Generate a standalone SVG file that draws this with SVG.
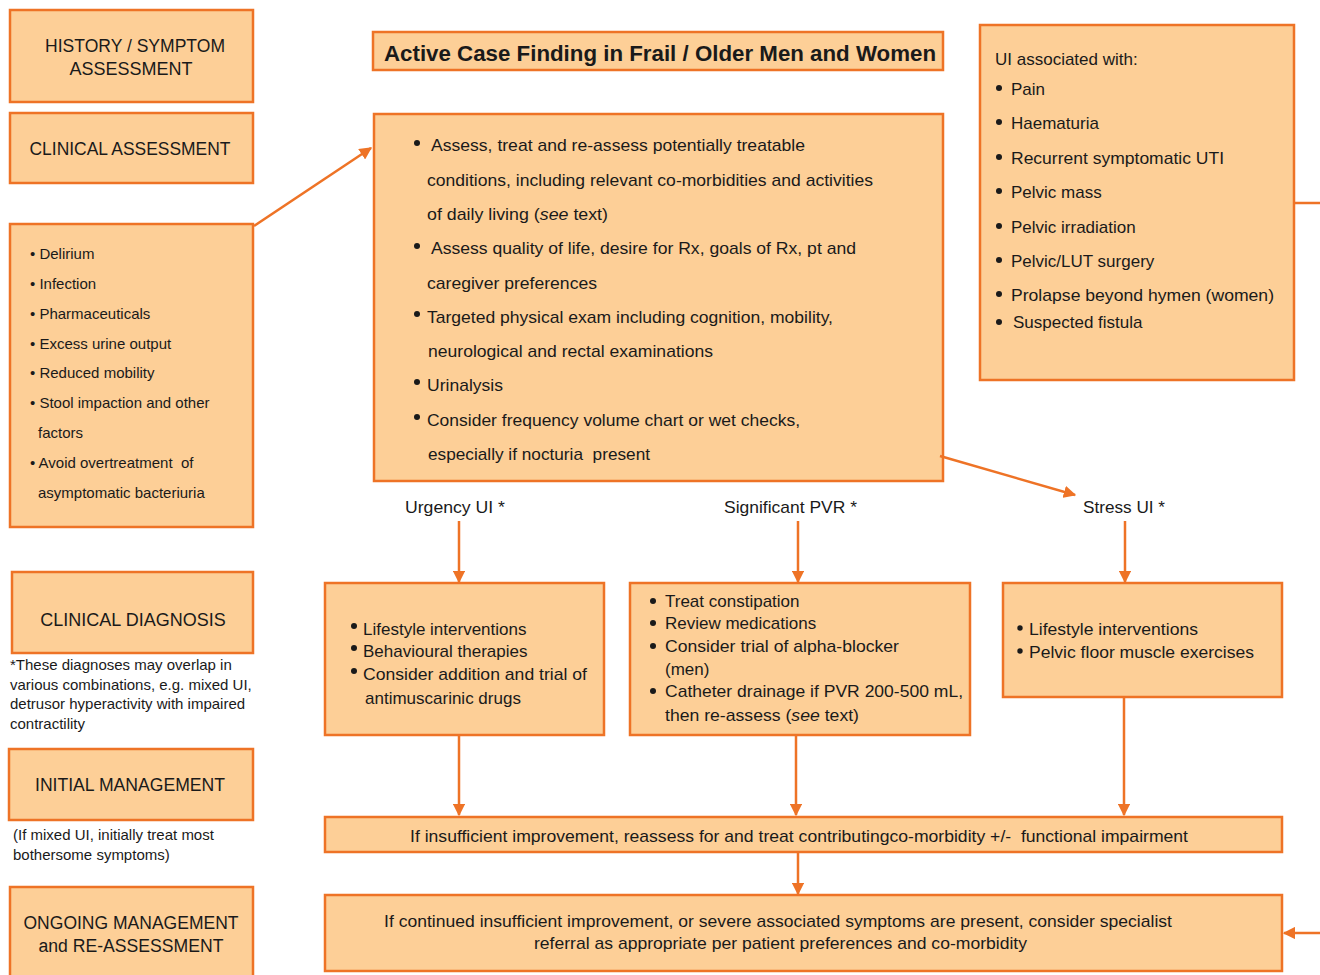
<svg xmlns="http://www.w3.org/2000/svg" width="1320" height="975" viewBox="0 0 1320 975">
<style>
.box{fill:#FDCF97;stroke:#EE7326;stroke-width:2.5}
.t{font-family:"Liberation Sans",Arial,sans-serif;fill:#1a1a1a}
.h{font-size:18px;text-anchor:middle}
.m{font-size:17px}
.s{font-size:15px}
.c{text-anchor:middle}
.d{fill:#1a1a1a}
.pre{white-space:pre}
.ln{stroke:#EE7326;stroke-width:2.5;fill:none}
</style>
<defs>
<marker id="ah" viewBox="0 0 10 10" refX="9" refY="5" markerWidth="5" markerHeight="5" orient="auto" markerUnits="strokeWidth">
<path d="M0,0 L10,5 L0,10 z" fill="#EE7326"/>
</marker>
</defs>

<g id="history">
<rect class="box" x="10" y="10" width="243" height="92"/>
<text class="t h" x="135" y="52" textLength="180" lengthAdjust="spacingAndGlyphs">HISTORY / SYMPTOM</text>
<text class="t h" x="131" y="75">ASSESSMENT</text>
</g>
<g id="clinical-assessment">
<rect class="box" x="10" y="113" width="243" height="70"/>
<text class="t h" x="130" y="155" textLength="201" lengthAdjust="spacingAndGlyphs">CLINICAL ASSESSMENT</text>
</g>
<g id="factors">
<rect class="box" x="10" y="224" width="243" height="303"/>
<text class="t s" x="30" y="259">• Delirium</text>
<text class="t s" x="30" y="289">• Infection</text>
<text class="t s" x="30" y="319">• Pharmaceuticals</text>
<text class="t s" x="30" y="349">• Excess urine output</text>
<text class="t s" x="30" y="378">• Reduced mobility</text>
<text class="t s" x="30" y="408">• Stool impaction and other</text>
<text class="t s" x="38" y="438">factors</text>
<text class="t s pre" x="30" y="468">• Avoid overtreatment  of</text>
<text class="t s" x="38" y="498">asymptomatic bacteriuria</text>
</g>
<g id="clinical-diagnosis">
<rect class="box" x="12" y="572" width="241" height="81"/>
<text class="t h" x="133" y="626">CLINICAL DIAGNOSIS</text>
</g>
<g id="footnote">
<text class="t s" x="10" y="670">*These diagnoses may overlap in</text>
<text class="t s" x="10" y="690">various combinations, e.g. mixed UI,</text>
<text class="t s" x="10" y="709">detrusor hyperactivity with impaired</text>
<text class="t s" x="10" y="729">contractility</text>
</g>
<g id="initial-management">
<rect class="box" x="9" y="749" width="244" height="71"/>
<text class="t h" x="130" y="791" textLength="190" lengthAdjust="spacingAndGlyphs">INITIAL MANAGEMENT</text>
</g>
<g id="mixed-note">
<text class="t s" x="13" y="840">(If mixed UI, initially treat most</text>
<text class="t s" x="13" y="860">bothersome symptoms)</text>
</g>
<g id="ongoing">
<rect class="box" x="10" y="887" width="243" height="95"/>
<text class="t h" x="131" y="929" textLength="215" lengthAdjust="spacingAndGlyphs">ONGOING MANAGEMENT</text>
<text class="t h" x="131" y="952" textLength="185" lengthAdjust="spacingAndGlyphs">and RE-ASSESSMENT</text>
</g>

<g id="title">
<rect class="box" x="373" y="32" width="570" height="38"/>
<text class="t c" x="660" y="61" font-size="22" font-weight="bold" textLength="552" lengthAdjust="spacingAndGlyphs">Active Case Finding in Frail / Older Men and Women</text>
</g>

<g id="assessment">
<rect class="box" x="374" y="114" width="569" height="367"/>
<circle class="d" cx="417" cy="143" r="3"/>
<text class="t m" x="431" y="151" textLength="374" lengthAdjust="spacingAndGlyphs">Assess, treat and re-assess potentially treatable</text>
<text class="t m" x="427" y="186" textLength="446" lengthAdjust="spacingAndGlyphs">conditions, including relevant co-morbidities and activities</text>
<text class="t m" x="427" y="220" textLength="181" lengthAdjust="spacingAndGlyphs">of daily living (<tspan font-style="italic">see</tspan> text)</text>
<circle class="d" cx="417" cy="246" r="3"/>
<text class="t m" x="431" y="254" textLength="425" lengthAdjust="spacingAndGlyphs">Assess quality of life, desire for Rx, goals of Rx, pt and</text>
<text class="t m" x="427" y="289" textLength="170" lengthAdjust="spacingAndGlyphs">caregiver preferences</text>
<circle class="d" cx="417" cy="314" r="3"/>
<text class="t m" x="427" y="323" textLength="406" lengthAdjust="spacingAndGlyphs">Targeted physical exam including cognition, mobility,</text>
<text class="t m" x="428" y="357" textLength="285" lengthAdjust="spacingAndGlyphs">neurological and rectal examinations</text>
<circle class="d" cx="417" cy="382" r="3"/>
<text class="t m" x="427" y="391" textLength="76" lengthAdjust="spacingAndGlyphs">Urinalysis</text>
<circle class="d" cx="417" cy="417" r="3"/>
<text class="t m" x="427" y="426" textLength="373" lengthAdjust="spacingAndGlyphs">Consider frequency volume chart or wet checks,</text>
<text class="t m pre" x="428" y="460" textLength="222" lengthAdjust="spacingAndGlyphs">especially if nocturia  present</text>
</g>

<g id="ui-associated">
<rect class="box" x="980" y="25" width="314" height="355"/>
<text class="t m" x="995" y="65">UI associated with:</text>
<circle class="d" cx="999" cy="88" r="3"/><text class="t m" x="1011" y="95">Pain</text>
<circle class="d" cx="999" cy="122" r="3"/><text class="t m" x="1011" y="129">Haematuria</text>
<circle class="d" cx="999" cy="157" r="3"/><text class="t m" x="1011" y="164" textLength="213" lengthAdjust="spacingAndGlyphs">Recurrent symptomatic UTI</text>
<circle class="d" cx="999" cy="191" r="3"/><text class="t m" x="1011" y="198">Pelvic mass</text>
<circle class="d" cx="999" cy="226" r="3"/><text class="t m" x="1011" y="233">Pelvic irradiation</text>
<circle class="d" cx="999" cy="260" r="3"/><text class="t m" x="1011" y="267">Pelvic/LUT surgery</text>
<circle class="d" cx="999" cy="294" r="3"/><text class="t m" x="1011" y="301" textLength="263" lengthAdjust="spacingAndGlyphs">Prolapse beyond hymen (women)</text>
<circle class="d" cx="999" cy="322" r="3"/><text class="t m" x="1013" y="328">Suspected fistula</text>
</g>

<g id="label-urgency"><text class="t m" x="405" y="513" textLength="100" lengthAdjust="spacingAndGlyphs">Urgency UI *</text></g>
<g id="label-pvr"><text class="t m" x="724" y="513" textLength="133" lengthAdjust="spacingAndGlyphs">Significant PVR *</text></g>
<g id="label-stress"><text class="t m" x="1083" y="513" textLength="82" lengthAdjust="spacingAndGlyphs">Stress UI *</text></g>

<g id="urgency-mgmt">
<rect class="box" x="325" y="583" width="279" height="152"/>
<circle class="d" cx="354" cy="626" r="3"/><text class="t m" x="363" y="635">Lifestyle interventions</text>
<circle class="d" cx="354" cy="648" r="3"/><text class="t m" x="363" y="657">Behavioural therapies</text>
<circle class="d" cx="354" cy="671" r="3"/><text class="t m" x="363" y="680" textLength="224" lengthAdjust="spacingAndGlyphs">Consider addition and trial of</text>
<text class="t m" x="365" y="704">antimuscarinic drugs</text>
</g>

<g id="pvr-mgmt">
<rect class="box" x="630" y="583" width="340" height="152"/>
<circle class="d" cx="653" cy="601" r="3"/><text class="t m" x="665" y="607">Treat constipation</text>
<circle class="d" cx="653" cy="623" r="3"/><text class="t m" x="665" y="629">Review medications</text>
<circle class="d" cx="653" cy="646" r="3"/><text class="t m" x="665" y="652" textLength="234" lengthAdjust="spacingAndGlyphs">Consider trial of alpha-blocker</text>
<text class="t m" x="665" y="675">(men)</text>
<circle class="d" cx="653" cy="691" r="3"/><text class="t m" x="665" y="697" textLength="298" lengthAdjust="spacingAndGlyphs">Catheter drainage if PVR 200-500 mL,</text>
<text class="t m" x="665" y="721" textLength="194" lengthAdjust="spacingAndGlyphs">then re-assess (<tspan font-style="italic">see</tspan> text)</text>
</g>

<g id="stress-mgmt">
<rect class="box" x="1003" y="583" width="279" height="114"/>
<circle class="d" cx="1020" cy="628" r="2.7"/><text class="t m" x="1029" y="635" textLength="169" lengthAdjust="spacingAndGlyphs">Lifestyle interventions</text>
<circle class="d" cx="1020" cy="651" r="2.7"/><text class="t m" x="1029" y="658" textLength="225" lengthAdjust="spacingAndGlyphs">Pelvic floor muscle exercises</text>
</g>

<g id="reassess">
<rect class="box" x="325" y="817" width="957" height="35"/>
<text class="t m pre" x="410" y="842" textLength="778" lengthAdjust="spacingAndGlyphs">If insufficient improvement, reassess for and treat contributingco-morbidity +/-  functional impairment</text>
</g>

<g id="specialist">
<rect class="box" x="325" y="895" width="957" height="76"/>
<text class="t m" x="384" y="927" textLength="788" lengthAdjust="spacingAndGlyphs">If continued insufficient improvement, or severe associated symptoms are present, consider specialist</text>
<text class="t m" x="534" y="949" textLength="493" lengthAdjust="spacingAndGlyphs">referral as appropriate per patient preferences and co-morbidity</text>
</g>

<g id="connectors">
<line class="ln" x1="254" y1="226" x2="371" y2="148" marker-end="url(#ah)"/>
<line class="ln" x1="940" y1="456" x2="1075" y2="495" marker-end="url(#ah)"/>
<line class="ln" x1="459" y1="521" x2="459" y2="582" marker-end="url(#ah)"/>
<line class="ln" x1="798" y1="521" x2="798" y2="582" marker-end="url(#ah)"/>
<line class="ln" x1="1125" y1="521" x2="1125" y2="582" marker-end="url(#ah)"/>
<line class="ln" x1="459" y1="736" x2="459" y2="815" marker-end="url(#ah)"/>
<line class="ln" x1="796" y1="736" x2="796" y2="815" marker-end="url(#ah)"/>
<line class="ln" x1="1124" y1="698" x2="1124" y2="815" marker-end="url(#ah)"/>
<line class="ln" x1="798" y1="853" x2="798" y2="894" marker-end="url(#ah)"/>
<line class="ln" x1="1295" y1="203" x2="1320" y2="203"/>
<line class="ln" x1="1320" y1="933" x2="1284" y2="933" marker-end="url(#ah)"/>
</g>
</svg>
